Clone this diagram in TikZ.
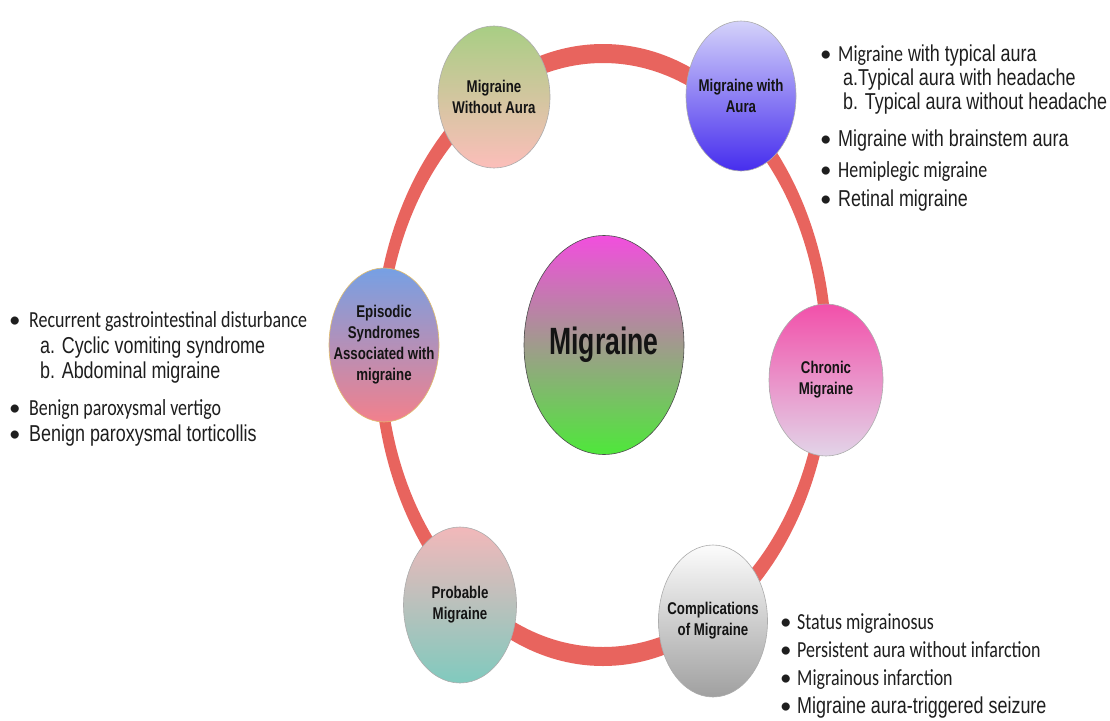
\documentclass[tikz,border=0pt]{standalone}
\usepackage{fontspec}
\usetikzlibrary{shapes.geometric}
\newfontfamily\arialF[FakeStretch=0.78]{Liberation Sans}
\newfontfamily\arialC[FakeStretch=0.70]{Liberation Sans}
\newfontfamily\calF[FakeStretch=0.78]{Carlito}
\newfontfamily\bulF{Carlito}
\definecolor{ringc}{RGB}{232,100,94}
\definecolor{txt}{RGB}{30,30,30}
\newcommand\mybul[1]{\makebox[#1][l]{\bulF\textbullet}}
\tikzset{
  bub/.style={ellipse, draw=gray!65, line width=0.6pt, inner sep=0pt},
  blab/.style={align=center, inner sep=0pt, text=black!92,
    font={\arialF\bfseries\fontsize{17pt}{21pt}\selectfont}},
  li/.style={anchor=base west, inner sep=0pt, text=txt,
    font={\fontsize{23pt}{23pt}\selectfont}},
}
\begin{document}
\begin{tikzpicture}[x=1pt,y=-1pt]
\useasboundingbox (0,0) rectangle (1110,720);
\fill[white] (0,0) rectangle (1110,720);
% ring
\fill[ringc, even odd rule] (603,355) ellipse[x radius=229pt, y radius=311pt]
                            (603,355) ellipse[x radius=218pt, y radius=292pt];
% bubbles
\node[bub, minimum width=112pt, minimum height=142pt,
  top color={rgb,255:red,168;green,206;blue,132}, bottom color={rgb,255:red,252;green,190;blue,186}] (wo) at (494,97) {};
\node[bub, minimum width=110pt, minimum height=150pt,
  top color={rgb,255:red,212;green,210;blue,250}, bottom color={rgb,255:red,70;green,45;blue,238}] (wa) at (741,96) {};
\node[bub, draw={rgb,255:red,225;green,190;blue,110}, minimum width=110pt, minimum height=154pt,
  top color={rgb,255:red,118;green,160;blue,228}, bottom color={rgb,255:red,242;green,128;blue,140}] (ep) at (384,345) {};
\node[bub, minimum width=114pt, minimum height=152pt,
  top color={rgb,255:red,242;green,80;blue,170}, bottom color={rgb,255:red,226;green,212;blue,232}] (ch) at (826,380) {};
\node[bub, minimum width=113pt, minimum height=156pt,
  top color={rgb,255:red,242;green,184;blue,186}, bottom color={rgb,255:red,128;green,202;blue,190}] (pr) at (460,605) {};
\node[bub, minimum width=109pt, minimum height=152pt,
  top color={rgb,255:red,252;green,252;blue,252}, bottom color={rgb,255:red,160;green,160;blue,160}] (co) at (713,621) {};
\node[bub, draw=black!70, minimum width=160pt, minimum height=219pt,
  top color={rgb,255:red,242;green,78;blue,222}, middle color={rgb,255:red,165;green,142;blue,128},
  bottom color={rgb,255:red,78;green,232;blue,58}] (mg) at (604,345) {};
% bubble labels
\node[blab] (wo-t) at (wo) {Migraine\\Without Aura};
\node[blab] (wa-t) at (wa) {Migraine with\\Aura};
\node[blab] (ep-t) at (ep) {Episodic\\Syndromes\\Associated with\\migraine};
\node[blab] (ch-t) at (ch) {Chronic\\Migraine};
\node[blab] (pr-t) at (pr) {Probable\\Migraine};
\node[blab] (co-t) at (co) {Complications\\of Migraine};
\node[inner sep=0pt, text=black!92, font={\arialC\bfseries\fontsize{38pt}{38pt}\selectfont}] (mg-t) at (mg) {Migraine};
% right list
\node[li] (r1) at (820,61) {\mybul{18pt}{\calF Migraine}\arialF{} with typical aura};
\node[li] (r2) at (843,85) {\arialF a.Typical aura with headache};
\node[li] (r3) at (843,109) {\arialF b. Typical aura without headache};
\node[li] (r4) at (820,146) {\mybul{18pt}\arialF Migraine with brainstem aura};
\node[li] (r5) at (820,177) {\mybul{18pt}\calF Hemiplegic migraine};
\node[li] (r6) at (820,206) {\mybul{18pt}\arialF Retinal migraine};
% left list
\node[li] (l1) at (9,327) {\mybul{20pt}\calF Recurrent gastrointestinal disturbance};
\node[li] (l2) at (40,353) {\arialF a. Cyclic vomiting syndrome};
\node[li] (l3) at (40,378) {\arialF b. Abdominal migraine};
\node[li] (l4) at (9,415) {\mybul{20pt}\calF Benign paroxysmal vertigo};
\node[li] (l5) at (9,441) {\mybul{20pt}\arialF Benign paroxysmal torticollis};
% bottom-right list
\node[li] (b1) at (780,629) {\mybul{17pt}\calF Status migrainosus};
\node[li] (b2) at (780,657) {\mybul{17pt}\calF Persistent aura without infarction};
\node[li] (b3) at (780,685) {\mybul{17pt}\calF Migrainous infarction};
\node[li] (b4) at (780,713) {\mybul{17pt}\arialF Migraine aura-triggered seizure};
\end{tikzpicture}
\end{document}
